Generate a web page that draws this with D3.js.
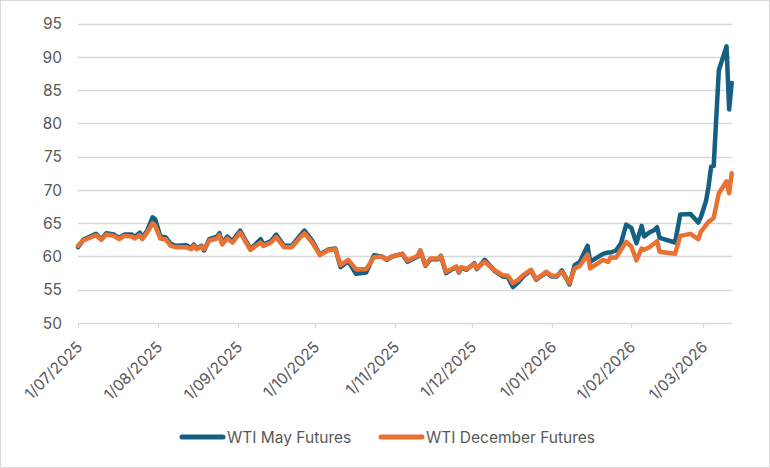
<!DOCTYPE html>
<html>
<head>
<meta charset="utf-8">
<script src="https://cdn.jsdelivr.net/npm/d3@7"></script>
<style>
  body { margin: 0; background: #fff; }
  text { font-family: Inter, "Liberation Sans", sans-serif; fill: #595959; }
</style>
</head>
<body>
<div class="root"></div>
<script>
const width = 770;
const height = 468;

// trading dates
const dates = [
  "2025-07-01","2025-07-03","2025-07-08","2025-07-10","2025-07-12","2025-07-15","2025-07-17","2025-07-19",
  "2025-07-22","2025-07-23","2025-07-25","2025-07-26","2025-07-28","2025-07-30","2025-07-31","2025-08-02",
  "2025-08-04","2025-08-06","2025-08-08","2025-08-12","2025-08-14","2025-08-15","2025-08-16","2025-08-18",
  "2025-08-19","2025-08-21","2025-08-24","2025-08-25","2025-08-26","2025-08-28","2025-08-30","2025-09-02",
  "2025-09-06","2025-09-10","2025-09-11","2025-09-14","2025-09-16","2025-09-19","2025-09-22","2025-09-25",
  "2025-09-27","2025-09-30","2025-10-03","2025-10-06","2025-10-09","2025-10-11","2025-10-14","2025-10-17",
  "2025-10-21","2025-10-24","2025-10-27","2025-10-29","2025-10-31","2025-11-04","2025-11-06","2025-11-10",
  "2025-11-11","2025-11-13","2025-11-15","2025-11-18","2025-11-19","2025-11-21","2025-11-23","2025-11-25",
  "2025-11-26","2025-11-27","2025-11-29","2025-12-02","2025-12-03","2025-12-06","2025-12-10","2025-12-13",
  "2025-12-15","2025-12-17","2025-12-19","2025-12-21","2025-12-24","2025-12-26","2025-12-30","2026-01-01",
  "2026-01-03","2026-01-05","2026-01-08","2026-01-10","2026-01-12","2026-01-15","2026-01-16","2026-01-21",
  "2026-01-23","2026-01-24","2026-01-26","2026-01-28","2026-01-30","2026-02-01","2026-02-03","2026-02-05",
  "2026-02-06","2026-02-08","2026-02-10","2026-02-11","2026-02-12","2026-02-18","2026-02-20","2026-02-24",
  "2026-02-27","2026-02-28","2026-03-02","2026-03-03","2026-03-04","2026-03-05","2026-03-07","2026-03-10",
  "2026-03-11","2026-03-12"
];

const mayFutures = [
  61.4,62.5,63.4,62.6,63.5,63.3,62.8,63.3,
  63.3,62.9,63.6,62.8,64.0,65.9,65.6,63.0,
  62.9,61.9,61.6,61.7,61.3,61.8,61.2,61.6,
  60.9,62.6,63.0,63.5,62.0,63.0,62.3,63.9,
  61.1,62.6,61.8,62.3,63.3,61.6,61.6,63.0,
  63.9,62.4,60.3,61.0,61.2,58.4,59.3,57.4,
  57.6,60.2,60.0,59.5,60.0,60.4,59.2,60.0,
  60.9,58.6,59.6,59.6,60.1,57.5,58.0,58.4,
  57.6,58.3,58.0,59.0,58.1,59.5,57.8,57.0,
  56.9,55.4,56.1,57.0,57.9,56.5,57.6,57.0,
  57.0,57.9,55.8,58.7,59.2,61.6,59.2,60.4,
  60.6,60.6,60.9,62.0,64.8,64.3,62.0,64.6,
  63.0,63.6,64.0,64.4,62.8,62.1,66.3,66.4,
  65.1,65.9,68.3,70.5,73.5,73.6,88.0,91.6,
  82.1,86.1
];

const decFutures = [
  61.6,62.4,63.2,62.5,63.3,63.1,62.6,63.1,
  63.0,62.7,63.2,62.6,63.7,65.0,64.6,62.7,
  62.6,61.6,61.4,61.4,61.1,61.6,61.1,61.5,
  61.1,62.4,62.7,63.2,61.8,62.7,62.1,63.6,
  61.0,62.1,61.6,62.1,62.9,61.4,61.4,62.7,
  63.5,62.1,60.2,60.9,61.1,58.7,59.5,58.1,
  58.1,59.9,60.0,59.6,60.0,60.4,59.4,60.1,
  60.9,58.7,59.7,59.7,60.1,57.7,58.1,58.5,
  57.7,58.4,58.1,58.9,58.2,59.2,57.9,57.2,
  57.1,56.0,56.5,57.2,58.0,56.6,57.7,57.1,
  57.1,57.7,56.0,58.2,58.6,60.3,58.2,59.5,
  59.2,59.9,59.8,61.0,62.2,61.5,59.4,61.2,
  61.0,61.4,62.0,62.3,60.7,60.4,63.1,63.4,
  62.6,63.7,64.7,65.2,65.5,65.8,69.5,71.3,
  69.5,72.5
];

const seriesNames = ["WTI May Futures", "WTI December Futures"];
const seriesColors = ["#156082", "#E97132"];
const yTicks = [50, 55, 60, 65, 70, 75, 80, 85, 90, 95];
const xTickDates = [
  "2025-07-01","2025-08-01","2025-09-01","2025-10-01","2025-11-01",
  "2025-12-01","2026-01-01","2026-02-01","2026-03-01"
];
const xStart = "2025-07-01";
const xEnd = "2026-03-12";

const parse = d3.timeParse("%Y-%m-%d");
const fmt = d3.timeFormat("%-d/%m/%Y");

const svg = d3.select(".root").append("svg")
  .attr("width", width)
  .attr("height", height);

svg.append("rect")
  .attr("x", 0.5).attr("y", 0.5)
  .attr("width", width - 1).attr("height", height - 1)
  .attr("fill", "#fff")
  .attr("stroke", "#d9d9d9");

const x = d3.scaleTime()
  .domain([parse(xStart), parse(xEnd)])
  .range([78, 731.7]);

const y = d3.scaleLinear()
  .domain([50, 95])
  .range([323, 23.7]);

// gridlines
svg.append("g")
  .selectAll("line")
  .data(yTicks)
  .join("line")
  .attr("x1", x.range()[0])
  .attr("x2", x.range()[1])
  .attr("y1", (d) => Math.round(y(d)) + 0.5)
  .attr("y2", (d) => Math.round(y(d)) + 0.5)
  .attr("stroke", "#d9d9d9")
  .attr("stroke-width", 1.3);

// y labels
svg.append("g")
  .selectAll("text")
  .data(yTicks)
  .join("text")
  .attr("x", 62)
  .attr("y", (d) => y(d))
  .attr("dy", "0.36em")
  .attr("text-anchor", "end")
  .attr("font-size", 15.5)
  .text((d) => d);

// x tick marks + labels
const xt = svg.append("g")
  .selectAll("g")
  .data(xTickDates.map(parse))
  .join("g")
  .attr("transform", (d) => `translate(${Math.round(x(d)) + 0.5},0)`);

xt.append("line")
  .attr("y1", y(50))
  .attr("y2", y(50) + 5)
  .attr("stroke", "#d9d9d9")
  .attr("stroke-width", 1.3);

xt.append("text")
  .attr("transform", "translate(5,348) rotate(-45)")
  .attr("text-anchor", "end")
  .attr("font-size", 15.5)
  .text((d) => fmt(d));

// lines
const rows = dates.map((d, i) => ({ date: parse(d), may: mayFutures[i], dec: decFutures[i] }));

const line = (key) => d3.line()
  .x((d) => x(d.date))
  .y((d) => y(d[key]));

["may", "dec"].forEach((key, i) => {
  svg.append("path")
    .datum(rows)
    .attr("fill", "none")
    .attr("stroke", seriesColors[i])
    .attr("stroke-width", 4.5)
    .attr("stroke-linejoin", "round")
    .attr("stroke-linecap", "round")
    .attr("d", line(key));
});

// legend
const legendX = [182, 381];
const legend = svg.append("g")
  .selectAll("g")
  .data(seriesNames)
  .join("g")
  .attr("transform", (d, i) => `translate(${legendX[i]},437)`);

legend.append("line")
  .attr("x1", 0).attr("x2", 41)
  .attr("stroke", (d, i) => seriesColors[i])
  .attr("stroke-width", 5)
  .attr("stroke-linecap", "round");

legend.append("text")
  .attr("x", 45)
  .attr("dy", "0.36em")
  .attr("font-size", 15.5)
  .text((d) => d);
</script>
</body>
</html>
